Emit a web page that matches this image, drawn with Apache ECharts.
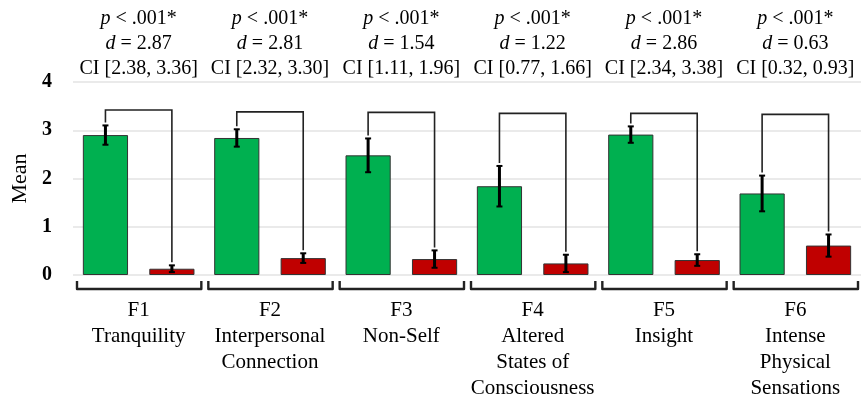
<!DOCTYPE html>
<html>
<head>
<meta charset="utf-8">
<script src="https://cdn.jsdelivr.net/npm/echarts@6/dist/echarts.min.js"></script>
<style>html,body{margin:0;padding:0;background:#fff;}#c{width:861px;height:401px;}</style>
</head>
<body>
<div id="c"></div>
<script>
const codes = ['F1','F2','F3','F4','F5','F6'];
const names = ['Tranquility','Interpersonal\nConnection','Non-Self','Altered\nStates of\nConsciousness','Insight','Intense\nPhysical\nSensations'];
const greenMean = [2.90, 2.84, 2.48, 1.84, 2.91, 1.69];
const greenErr  = [0.20, 0.18, 0.35, 0.42, 0.17, 0.37];
const redMean   = [0.13, 0.35, 0.33, 0.24, 0.31, 0.61];
const redErr    = [0.07, 0.10, 0.18, 0.18, 0.12, 0.23];
const bracketLevel = [3.42, 3.38, 3.37, 3.35, 3.35, 3.33];
const pText = ['< .001*','< .001*','< .001*','< .001*','< .001*','< .001*'];
const dVals = ['2.87','2.81','1.54','1.22','2.86','0.63'];
const ciLow = ['2.38','2.32','1.11','0.77','2.34','0.32'];
const ciHigh= ['3.36','3.30','1.96','1.66','3.38','0.93'];
const yTicks = [0,1,2,3,4];

const FONT = '"Liberation Serif", "Times New Roman", serif';
const CAT_GAP = 0.15, BAR_GAP = 0.47;
function barOffsets(band){
  const w = band*(1-CAT_GAP)/(2+BAR_GAP);
  const off = w*BAR_GAP/2 + w/2;
  return [-off, off];
}

const chart = echarts.init(document.getElementById('c'), null, {renderer:'canvas'});

const errData = [];
codes.forEach((c,i)=>{ errData.push([i, greenMean[i], greenErr[i], 0]); errData.push([i, redMean[i], redErr[i], 1]); });
const brData = codes.map((c,i)=>[i, bracketLevel[i], greenMean[i]+greenErr[i], redMean[i]+redErr[i]]);
const bottomData = codes.map((c,i)=>[i, 0]);

const option = {
  animation:false,
  backgroundColor:'#fff',
  grid:{left:73, right:0, top:82, bottom:126},
  xAxis:[{
    type:'category', data:codes.map((c,i)=>c+'\n'+names[i]),
    axisLine:{show:false}, axisTick:{show:false},
    axisLabel:{interval:0, margin:22, fontFamily:FONT, fontSize:21, color:'#000', lineHeight:26, align:'center', verticalAlign:'top'}
  },{
    type:'category', position:'top', data:codes,
    axisLine:{show:false}, axisTick:{show:false},
    axisLabel:{interval:0, margin:1, fontFamily:FONT, fontSize:20, color:'#000', lineHeight:25,
      formatter:(v, idx)=>'{i|p} ' + pText[idx] + '\n{i|d} = ' + dVals[idx] + '\nCI [' + ciLow[idx] + ', ' + ciHigh[idx] + ']',
      rich:{i:{fontStyle:'italic', fontFamily:FONT, fontSize:20, color:'#000', lineHeight:25}}
    }
  }],
  yAxis:{
    type:'value', min:0, max:4, interval:1,
    name:'Mean', nameLocation:'middle', nameGap:42, nameRotate:90,
    nameTextStyle:{fontFamily:FONT, fontSize:22, color:'#000'},
    axisLine:{show:false}, axisTick:{show:false},
    axisLabel:{margin:21, fontFamily:FONT, fontSize:20, fontWeight:'bold', color:'#000',
      formatter:(v)=> yTicks.includes(v) ? String(v) : ''},
    splitLine:{lineStyle:{color:'#e3e3e3', width:1.5}}
  },
  series:[
    {type:'bar', name:'Group 1', data:greenMean, barCategoryGap:(CAT_GAP*100)+'%', barGap:(BAR_GAP*100)+'%',
      itemStyle:{color:'#00b050', borderColor:'#333', borderWidth:1}},
    {type:'bar', name:'Group 2', data:redMean, barCategoryGap:(CAT_GAP*100)+'%', barGap:(BAR_GAP*100)+'%',
      itemStyle:{color:'#c00000', borderColor:'#333', borderWidth:1}},
    {type:'custom', name:'err', data:errData, z:5,
      renderItem:(params, api)=>{
        const i = api.value(0), m = api.value(1), e = api.value(2), g = api.value(3);
        const band = api.size([1,0])[0];
        const off = barOffsets(band)[g];
        const top = api.coord([i, m+e]), bot = api.coord([i, m-e]);
        const x = top[0] + off;
        const cap = 3;
        return {type:'group', children:[
          {type:'line', shape:{x1:x, y1:top[1], x2:x, y2:bot[1]}, style:{stroke:'#000', lineWidth:3}},
          {type:'line', shape:{x1:x-cap, y1:top[1], x2:x+cap, y2:top[1]}, style:{stroke:'#000', lineWidth:2}},
          {type:'line', shape:{x1:x-cap, y1:bot[1], x2:x+cap, y2:bot[1]}, style:{stroke:'#000', lineWidth:2}}
        ]};
      }
    },
    {type:'custom', name:'brackets', data:brData, z:4, clip:false,
      renderItem:(params, api)=>{
        const i = api.value(0);
        const band = api.size([1,0])[0];
        const offs = barOffsets(band);
        const lvl = api.coord([i, api.value(1)]);
        const gTop = api.coord([i, api.value(2)]);
        const rTop = api.coord([i, api.value(3)]);
        const xg = lvl[0]+offs[0], xr = lvl[0]+offs[1];
        return {type:'polyline', shape:{points:[[xg, gTop[1]-3],[xg, lvl[1]],[xr, lvl[1]],[xr, rTop[1]-3]]},
          style:{stroke:'#222', lineWidth:1.6, fill:null}};
      }
    },
    {type:'custom', name:'groups', data:bottomData, z:4, clip:false,
      renderItem:(params, api)=>{
        const i = api.value(0);
        const band = api.size([1,0])[0];
        const c = api.coord([i, api.value(1)]);
        const x1 = c[0]-band/2+4, x2 = c[0]+band/2-3;
        const yb = c[1]+14, yt = c[1]+6;
        return {type:'polyline', shape:{points:[[x1,yt],[x1,yb],[x2,yb],[x2,yt]]},
          style:{stroke:'#222', lineWidth:2.4, fill:null, lineJoin:'round'}};
      }
    }
  ]
};
chart.setOption(option);
</script>
</body>
</html>
